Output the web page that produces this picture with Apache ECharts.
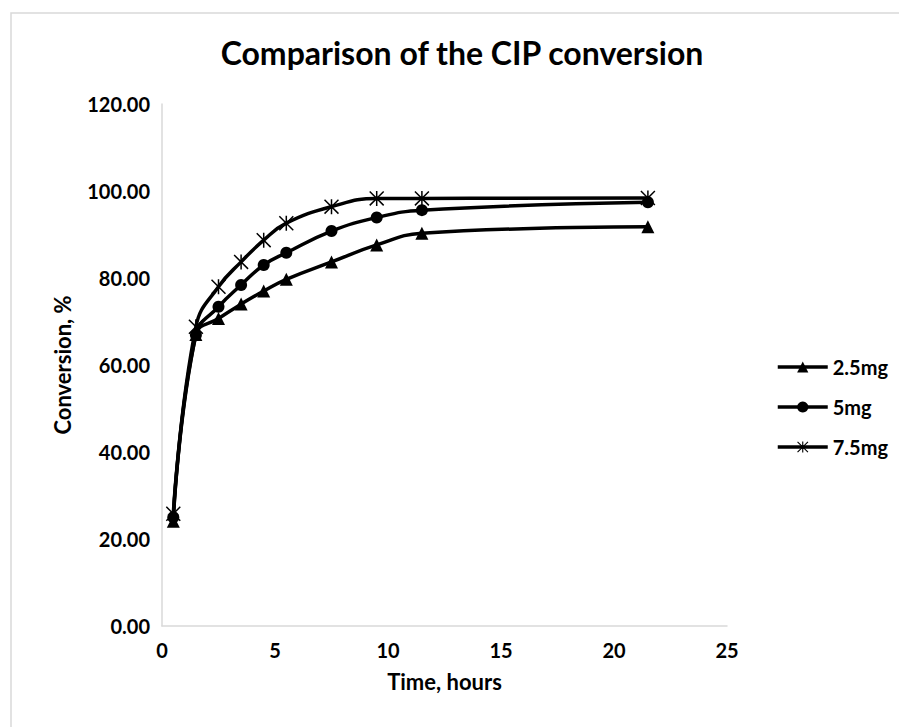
<!DOCTYPE html>
<html>
<head>
<meta charset="utf-8">
<script src="https://cdn.jsdelivr.net/npm/echarts@6/dist/echarts.min.js"></script>
<style>
  html, body { margin: 0; padding: 0; background: #ffffff; }
  #chart { width: 899px; height: 727px; }
</style>
</head>
<body>
<div id="chart"></div>
<script>
// Sampling times (hours) and CIP conversion (%) for each catalyst dose
const hours   = [0.5, 1.5, 2.5, 3.5, 4.5, 5.5, 7.5, 9.5, 11.5, 21.5];
const conv25  = [24.1, 67.0, 70.7, 74.0, 77.0, 79.7, 83.7, 87.6, 90.3, 91.8];
const conv50  = [25.0, 66.9, 73.4, 78.4, 83.0, 85.8, 90.8, 93.9, 95.6, 97.4];
const conv75  = [25.8, 68.8, 78.0, 83.7, 88.7, 92.6, 96.4, 98.3, 98.3, 98.4];
const seriesNames = ['2.5mg', '5mg', '7.5mg'];

// Axis ranges
const xRange = { min: 0, max: 25, step: 5 };
const yRange = { min: 0, max: 120, step: 20 };

const FONT = 'Lato';
const INK = '#000000';
const AXIS_GREY = '#d9d9d9';

// Asterisk marker: a vertical bar and two diagonals, all wound the same way
const asterisk = 'path://M9 0 L11 0 L11 20 L9 20 Z ' +
  'M0 1.4 L1.4 0 L20 18.6 L18.6 20 Z ' +
  'M18.6 0 L20 1.4 L1.4 20 L0 18.6 Z';

function pairs(ys) { return hours.map((h, i) => [h, ys[i]]); }

function makeSeries(name, ys, symbol, size) {
  return {
    name: name,
    type: 'line',
    data: pairs(ys),
    smooth: 0.45,
    symbol: symbol,
    symbolSize: size,
    showAllSymbol: true,
    lineStyle: { color: INK, width: 3.5 },
    itemStyle: { color: INK, borderWidth: 0 },
    emphasis: { disabled: true },
    animation: false
  };
}

const chart = echarts.init(document.getElementById('chart'), null, { renderer: 'svg' });

chart.setOption({
  backgroundColor: '#ffffff',
  animation: false,
  title: {
    text: 'Comparison of the CIP conversion',
    left: 462,
    top: 36,
    textAlign: 'center',
    padding: 0,
    textStyle: { fontFamily: FONT, fontWeight: 'bold', fontSize: 32, color: INK }
  },
  legend: {
    orient: 'vertical',
    left: 776,
    top: 357,
    padding: 0,
    itemWidth: 50,
    itemHeight: 14,
    itemGap: 20,
    selectedMode: false,
    data: seriesNames,
    lineStyle: { width: 3.5, color: INK },
    textStyle: { fontFamily: FONT, fontWeight: 'bold', fontSize: 20, lineHeight: 20, color: INK }
  },
  grid: { left: 162, right: 172, top: 104, bottom: 101, containLabel: false },
  xAxis: {
    type: 'value',
    min: xRange.min,
    max: xRange.max,
    interval: xRange.step,
    name: 'Time, hours',
    nameLocation: 'middle',
    nameGap: 44,
    nameTextStyle: { fontFamily: FONT, fontWeight: 'bold', fontSize: 22, color: INK },
    axisLine: { show: true, lineStyle: { color: AXIS_GREY, width: 1.5 } },
    axisTick: { show: false },
    splitLine: { show: false },
    axisLabel: { margin: 14, fontFamily: FONT, fontWeight: 'bold', fontSize: 20, color: INK }
  },
  yAxis: {
    type: 'value',
    min: yRange.min,
    max: yRange.max,
    interval: yRange.step,
    name: 'Conversion, %',
    nameLocation: 'middle',
    nameRotate: 90,
    nameGap: 89,
    nameTextStyle: { fontFamily: FONT, fontWeight: 'bold', fontSize: 22, color: INK },
    axisLine: { show: true, lineStyle: { color: AXIS_GREY, width: 1.5 } },
    axisTick: { show: false },
    splitLine: { show: false },
    axisLabel: {
      margin: 12,
      fontFamily: FONT, fontWeight: 'bold', fontSize: 20, color: INK,
      formatter: v => v.toFixed(2)
    }
  },
  graphic: [{
    type: 'rect',
    silent: true,
    shape: { x: 11, y: 13, width: 900, height: 730 },
    style: { fill: 'none', stroke: AXIS_GREY, lineWidth: 1.5 }
  }],
  series: [
    makeSeries(seriesNames[0], conv25, 'triangle', 13),
    makeSeries(seriesNames[1], conv50, 'circle', 12),
    makeSeries(seriesNames[2], conv75, asterisk, 15)
  ]
});
</script>
</body>
</html>
